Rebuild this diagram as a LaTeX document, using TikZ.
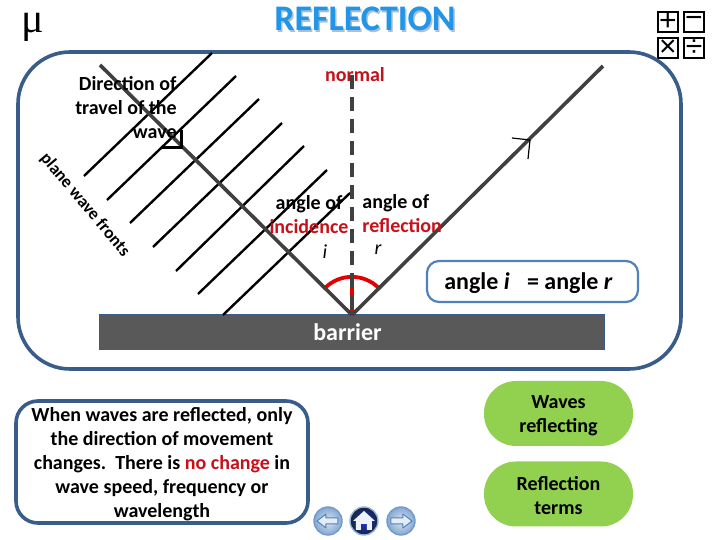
\documentclass[tikz,border=0pt]{standalone}
\usepackage{fontspec}
\setmainfont{Carlito}
\newfontfamily\signfont{Liberation Sans}
\newfontfamily\muserif{Liberation Serif}
\usepackage{xcolor}
\usetikzlibrary{arrows.meta,positioning,calc}
\definecolor{framecol}{HTML}{385D8A}
\definecolor{boxcol}{HTML}{4F81BD}
\definecolor{raycol}{HTML}{404040}
\definecolor{wallcol}{HTML}{595959}
\definecolor{notered}{HTML}{C8101A}
\definecolor{titlecol}{HTML}{2196E8}
\definecolor{pillcol}{HTML}{92D050}
\newcommand{\topgap}{\rule{0pt}{8.8pt}}

\begin{document}
\begin{tikzpicture}[
    x=0.5pt, y=-0.5pt,
    font=\fontsize{10}{12}\selectfont\bfseries,
    panel/.style={rectangle, draw=framecol, line width=1.8pt, rounded corners=26pt, minimum width=331.5pt, minimum height=158.5pt, fill=white},
    wall/.style={rectangle, draw=framecol, line width=0.5pt, fill=wallcol, text=white, minimum width=252.5pt, minimum height=17.5pt, font=\fontsize{12}{14}\selectfont\bfseries},
    note/.style={rectangle, draw=framecol, line width=1.8pt, rounded corners=11pt, minimum width=146pt, minimum height=61pt, fill=white, align=center, inner sep=0pt},
    eqbox/.style={rectangle, draw=boxcol, line width=1.1pt, rounded corners=6pt, minimum width=105.5pt, minimum height=20.5pt, fill=white, font=\fontsize{12}{14}\selectfont\bfseries},
    pill/.style={rectangle, fill=pillcol, rounded corners=16pt, minimum width=74.5pt, minimum height=32.5pt, align=center, inner sep=0pt},
    front/.style={black, line width=1.2pt},
    ray/.style={raycol, line width=1.8pt},
    arcred/.style={red!90!black, line width=1.9pt},
    label/.style={align=center, inner sep=0pt},
    signbox/.style={rectangle, draw=black, line width=1pt, minimum size=10pt, inner sep=0pt, font=\signfont\fontsize{15}{15}\selectfont},
    navbtn/.style={circle, draw=boxcol!80, line width=0.7pt, minimum size=14pt, inner sep=0pt, inner color=boxcol!20, outer color=boxcol!70},
    homebtn/.style={circle, draw=boxcol!60, line width=0.7pt, minimum size=14pt, inner sep=0pt, inner color=blue!60!boxcol, outer color=framecol!40!black}
]
    \useasboundingbox (0,0) rectangle (720,540);

    % Heading
    \node[inner sep=0pt, font=\muserif\fontsize{21}{21}\selectfont] (mu) at (33,27) {μ};
    \node[inner sep=0pt, text=framecol!40, font=\fontsize{18}{18}\selectfont\bfseries] (headshadow) at (366.5,20.5) {REFLECTION};
    \node[inner sep=0pt, text=titlecol, font=\fontsize{18}{18}\selectfont\bfseries] (head) at (365,19) {REFLECTION};
    \node[signbox] (plus) at (668,22) {+};
    \node[signbox] (minus) at (694,22) {−};
    \node[signbox] (times) at (668,48) {×};
    \node[signbox] (divide) at (694,48) {÷};

    % Tank
    \node[panel] (frame) at (349.5,210.5) {};
    \node[wall] (barrier) at (352.5,332.5) {\hspace*{-5pt}barrier};

    % Wave fronts
    \coordinate (hit) at (352,315);
    \foreach \n/\xa/\ya/\xb/\yb in {1/84/176/212/53, 2/107/200/236/76, 3/130/223/259/99, 4/153/247/282/123, 5/176/271/304/146, 6/198/294/327/170, 7/223/315/350/193} {
        \coordinate (fa\n) at (\xa,\ya);
        \coordinate (fb\n) at (\xb,\yb);
        \draw[front] (fa\n) -- (fb\n);
    }

    % Rays
    \coordinate (start) at (100,65);
    \coordinate (stop) at (603,66);
    \coordinate (top) at (352,75);
    \coordinate (arcl) at (325,288);
    \coordinate (arctop) at (352,277);
    \draw[arcred] (arcl) arc[start angle=135, end angle=45, radius=19pt];
    \draw[arcred] (arctop) -- (hit);
    \draw[raycol, line width=2pt, dash pattern=on 7pt off 4pt] (top) -- (hit);
    \draw[ray] (start) -- (hit);
    \draw[ray] (hit) -- (stop);

    % Right angle mark
    \coordinate (ma) at (162,148);
    \coordinate (mb) at (182,148);
    \coordinate (mc) at (182,130);
    \draw[black, line width=1.5pt] (ma) -- (mb) -- (mc);

    % Hand drawn head
    \coordinate (tip) at (530,140);
    \coordinate (ha) at (512,138);
    \coordinate (hb) at (528,159);
    \draw[black, line width=0.6pt] (ha) -- (tip) -- (hb);

    % Labels
    \node[label, anchor=east, align=right] (travel) at (177,108) {Direction of\\travel of the\\wave};
    \node[label, text=notered] (normal) at (355,75) {normal};
    \node[label, rotate=-50, font=\fontsize{8.7}{10}\selectfont\bfseries] (fronts) at (85,205) {plane wave fronts};
    \node[label] (incid) at (309,215) {angle of\\\textcolor{notered}{incidence}};
    \node[label, font=\fontsize{10}{12}\selectfont\itshape] (ilab) at (325,252) {i};
    \node[label, anchor=west, align=left] (reflt) at (362,214) {\hspace*{0pt}angle of\\\textcolor{notered}{reflection}};
    \node[label, font=\fontsize{10}{12}\selectfont\itshape] (rlab) at (378,250) {r};

    % Lower panels
    \node[eqbox] (equal) at (532.5,281.5) {\rule{0pt}{10.5pt}angle \textit{i}\enspace\ = angle \textit{r}\hspace*{4pt}};
    \node[note] (summary) at (162,462) {\topgap When waves are reflected, only\\the direction of movement\\changes.\ \ There is \textcolor{notered}{no change} in\\wave speed, frequency or\\wavelength};
    \node[pill] (waves) at (558.5,413.5) {\topgap Waves\\reflecting};
    \node[pill] (terms) at (558.5,494) {\topgap Reflection\\terms};

    % Navigation
    \node[navbtn] (back) at (328,521) {};
    \node[homebtn] (home) at (364,521) {};
    \node[navbtn] (next) at (401,521) {};
    \draw[boxcol, fill=white!85!boxcol, line width=0.5pt, line join=round] ($(back)+(-11,0)$) -- ++(9,-7) -- ++(0,4) -- ++(12,0) -- ++(0,6) -- ++(-12,0) -- ++(0,4) -- cycle;
    \draw[boxcol, fill=white!85!boxcol, line width=0.5pt, line join=round] ($(next)+(11,0)$) -- ++(-9,-7) -- ++(0,4) -- ++(-12,0) -- ++(0,6) -- ++(12,0) -- ++(0,4) -- cycle;
    \fill[white!90!boxcol] ($(home)+(-11,0)$) -- ++(11,-10) -- ++(11,10) -- ++(-3,0) -- ++(0,9) -- ++(-5,0) -- ++(0,-6) -- ++(-6,0) -- ++(0,6) -- ++(-5,0) -- ++(0,-9) -- cycle;

\end{tikzpicture}
\end{document}
